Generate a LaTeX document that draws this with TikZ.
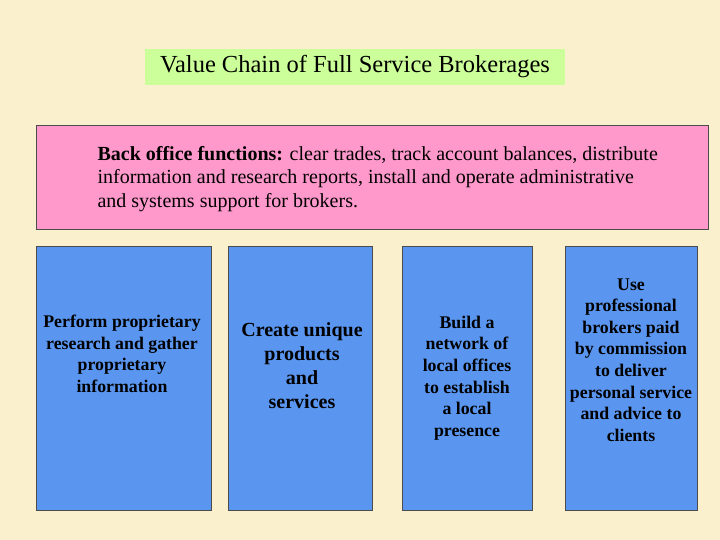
\documentclass[tikz,border=0pt]{standalone}
\usepackage{fontspec}
\setmainfont{Liberation Serif}
\begin{document}
\begin{tikzpicture}[x=1pt,y=-1pt,
  btxt/.style={align=center,font=\bfseries\fontsize{17.8}{21.6}\selectfont}]
\definecolor{bg}{RGB}{250,240,205}
\definecolor{ttl}{RGB}{204,255,153}
\definecolor{pk}{RGB}{255,153,204}
\definecolor{bl}{RGB}{90,150,240}
\fill[bg] (0,0) rectangle (720,540);
\useasboundingbox (0,0) rectangle (720,540);
\node[fill=ttl,minimum width=420,minimum height=36,inner sep=0,font=\fontsize{24.5}{28}\selectfont] (title) at (355,67) {Value Chain of Full Service Brokerages};
\node[draw=black!70,fill=pk,line width=0.8pt,minimum width=672,minimum height=104,inner sep=0] (back) at (372,177) {};
\node[anchor=west,align=left,font=\fontsize{20}{23.5}\selectfont] (bt) at (94,179) {\textbf{Back office functions:} clear trades, track account balances, distribute\\information and research reports, install and operate administrative\\and systems support for brokers.};
\node[draw=black!70,fill=bl,minimum width=175,minimum height=264,inner sep=0] (b1) at (123.5,378) {};
\node[draw=black!70,fill=bl,minimum width=144,minimum height=264,inner sep=0] (b2) at (300,378) {};
\node[draw=black!70,fill=bl,minimum width=130,minimum height=264,inner sep=0] (b3) at (467,378) {};
\node[draw=black!70,fill=bl,minimum width=132,minimum height=264,inner sep=0] (b4) at (631,378) {};
\node[btxt] (t1) at (122,354) {Perform proprietary\\research and gather\\proprietary\\information};
\node[btxt,font=\bfseries\fontsize{20}{24}\selectfont] (t2) at (302,366) {Create unique\\products\\and\\services};
\node[btxt] (t3) at (467,378) {Build a\\network of\\local offices\\to establish\\a local\\presence};
\node[btxt] (t4) at (631,360) {Use\\professional\\brokers paid\\by commission\\to deliver\\personal service\\and advice to\\clients};
\end{tikzpicture}
\end{document}
